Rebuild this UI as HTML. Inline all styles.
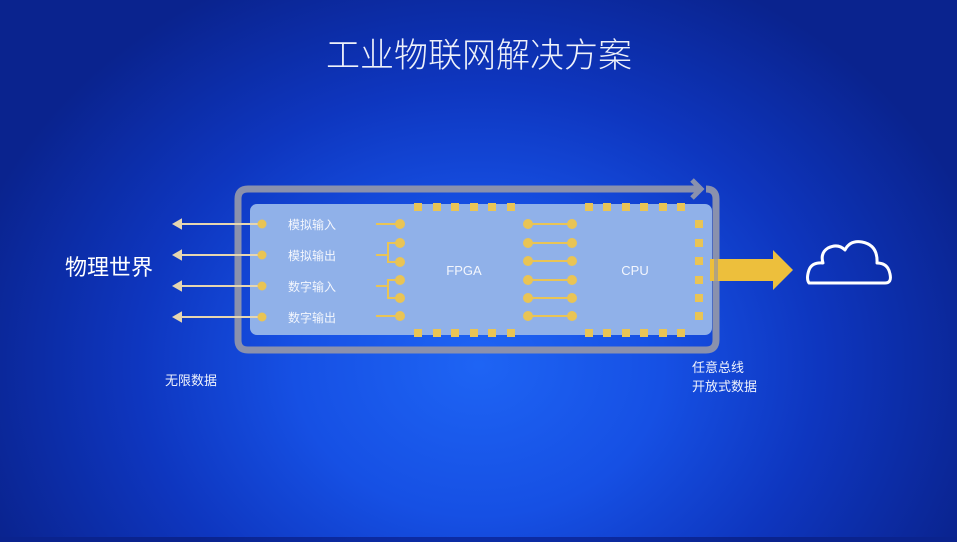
<!DOCTYPE html>
<html><head><meta charset="utf-8"><style>
html,body{margin:0;padding:0;}
body{width:957px;height:537px;overflow:hidden;background:radial-gradient(ellipse 55% 80% at 50% 68%,#1e64f4 0%,#1650e4 35%,#0e36bf 65%,#0a238e 100%);}
svg text{font-family:"Liberation Sans","Noto Sans CJK SC",sans-serif;}
</style></head><body>
<svg width="957" height="537" viewBox="0 0 957 537" xmlns="http://www.w3.org/2000/svg">
<text x="479" y="67" fill="#eef1fa" font-size="34" text-anchor="middle" font-weight="300">工业物联网解决方案</text>
<path d="M700 189 H248 Q238 189 238 199 V340 Q238 350 248 350 H706 Q716 350 716 340 V199 Q716 189 706 189" fill="none" stroke="#8a91ad" stroke-width="7"/>
<path d="M692 180 L701 189 L692 198" fill="none" stroke="#8a91ad" stroke-width="5"/>
<rect x="250" y="204" width="462" height="131" rx="7" fill="#90b1e9"/>
<g stroke="#e6d6b0" stroke-width="2" fill="#e6d6b0">
<line x1="178" y1="224" x2="262" y2="224"/><path d="M174 224 L181 220 L181 228Z"/>
<line x1="178" y1="255" x2="262" y2="255"/><path d="M174 255 L181 251 L181 259Z"/>
<line x1="178" y1="286" x2="262" y2="286"/><path d="M174 286 L181 282 L181 290Z"/>
<line x1="178" y1="317" x2="262" y2="317"/><path d="M174 317 L181 313 L181 321Z"/>
</g>
<g fill="#e9c455"><circle cx="262" cy="224" r="4.5"/><circle cx="262" cy="255" r="4.5"/><circle cx="262" cy="286" r="4.5"/><circle cx="262" cy="317" r="4.5"/></g>
<g fill="#f3f6fd" font-size="12"><text x="288" y="229">模拟输入</text><text x="288" y="260">模拟输出</text><text x="288" y="291">数字输入</text><text x="288" y="322">数字输出</text></g>
<text x="65" y="275" fill="#fff" font-size="22">物理世界</text>
<g stroke="#e9c455" stroke-width="2" fill="none">
<line x1="376" y1="224" x2="400" y2="224"/>
<path d="M376 255 H388 V243 H400 M388 255 V262 H400"/>
<path d="M376 286 H388 V280 H400 M388 286 V298 H400"/>
<line x1="376" y1="316" x2="400" y2="316"/>
</g>
<g fill="#e9c455">
<circle cx="400" cy="224" r="5"/><circle cx="400" cy="243" r="5"/><circle cx="400" cy="262" r="5"/><circle cx="400" cy="280" r="5"/><circle cx="400" cy="298" r="5"/><circle cx="400" cy="316" r="5"/>
</g>
<g fill="#e9c455">
<rect x="414" y="203" width="8" height="8"/><rect x="433" y="203" width="8" height="8"/><rect x="451" y="203" width="8" height="8"/><rect x="470" y="203" width="8" height="8"/><rect x="488" y="203" width="8" height="8"/><rect x="507" y="203" width="8" height="8"/>
<rect x="414" y="329" width="8" height="8"/><rect x="433" y="329" width="8" height="8"/><rect x="451" y="329" width="8" height="8"/><rect x="470" y="329" width="8" height="8"/><rect x="488" y="329" width="8" height="8"/><rect x="507" y="329" width="8" height="8"/>
<rect x="585" y="203" width="8" height="8"/><rect x="603" y="203" width="8" height="8"/><rect x="622" y="203" width="8" height="8"/><rect x="640" y="203" width="8" height="8"/><rect x="659" y="203" width="8" height="8"/><rect x="677" y="203" width="8" height="8"/>
<rect x="585" y="329" width="8" height="8"/><rect x="603" y="329" width="8" height="8"/><rect x="622" y="329" width="8" height="8"/><rect x="640" y="329" width="8" height="8"/><rect x="659" y="329" width="8" height="8"/><rect x="677" y="329" width="8" height="8"/>
<rect x="695" y="220" width="8" height="8"/><rect x="695" y="239" width="8" height="8"/><rect x="695" y="257" width="8" height="8"/><rect x="695" y="276" width="8" height="8"/><rect x="695" y="294" width="8" height="8"/><rect x="695" y="312" width="8" height="8"/>
</g>
<g stroke="#e9c455" stroke-width="2"><line x1="528" y1="224" x2="572" y2="224"/><line x1="528" y1="243" x2="572" y2="243"/><line x1="528" y1="261" x2="572" y2="261"/><line x1="528" y1="280" x2="572" y2="280"/><line x1="528" y1="298" x2="572" y2="298"/><line x1="528" y1="316" x2="572" y2="316"/></g>
<g fill="#e9c455">
<circle cx="528" cy="224" r="5"/><circle cx="572" cy="224" r="5"/><circle cx="528" cy="243" r="5"/><circle cx="572" cy="243" r="5"/><circle cx="528" cy="261" r="5"/><circle cx="572" cy="261" r="5"/><circle cx="528" cy="280" r="5"/><circle cx="572" cy="280" r="5"/><circle cx="528" cy="298" r="5"/><circle cx="572" cy="298" r="5"/><circle cx="528" cy="316" r="5"/><circle cx="572" cy="316" r="5"/>
</g>
<text x="464" y="275" fill="#f3f6fd" font-size="13" text-anchor="middle">FPGA</text>
<text x="635" y="275" fill="#f3f6fd" font-size="13" text-anchor="middle">CPU</text>
<path d="M710 259 H773 V250 L793 270 L773 290 V281 H710Z" fill="#edbf3c"/>
<rect x="714" y="259" width="4" height="22" fill="#8a91ad" opacity="0.6"/>
<path d="M809 283 H885 Q892 283 890 274 Q888 263 877 263 Q878 245 862 242 Q850 240 845 250 Q838 243 828 248 Q820 253 823 263 Q812 262 809 270 Q806 279 809 283Z" fill="none" stroke="#fff" stroke-width="3" stroke-linejoin="round"/>
<text x="165" y="385" fill="#eef2fc" font-size="13">无限数据</text>
<text x="692" y="372" fill="#eef2fc" font-size="13">任意总线</text>
<text x="692" y="391" fill="#eef2fc" font-size="13">开放式数据</text>
</svg>
</body></html>
